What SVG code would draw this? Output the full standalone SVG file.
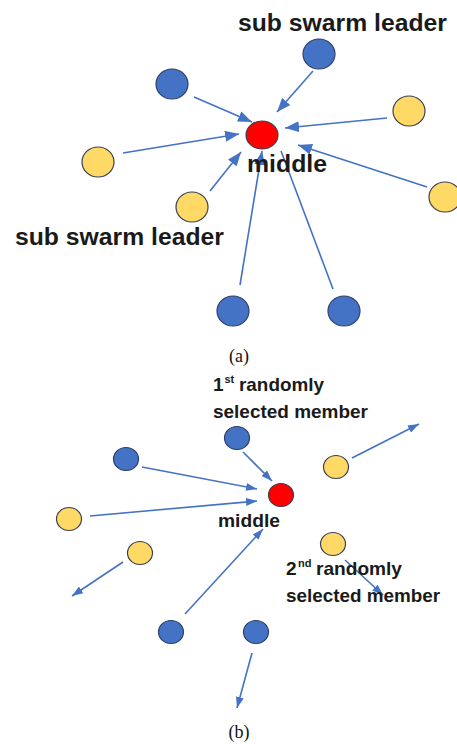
<svg xmlns="http://www.w3.org/2000/svg" width="457" height="744" viewBox="0 0 457 744">
<style>
.ln{stroke:#4472C4;stroke-width:1.6;fill:none}
.ma{marker-end:url(#ha)}
.mb{marker-end:url(#hb)}
.blue{fill:#4472C4;stroke:#2F3F6A;stroke-width:1.2}
.yel{fill:#FFD966;stroke:#3A3F55;stroke-width:1.2}
.red{fill:#FF0000;stroke:#3A3F55;stroke-width:1.2}
.lbl{font-family:"Liberation Sans",Arial,sans-serif;font-weight:bold;fill:#1a1a1a}
.cap{font-family:"Liberation Serif","Times New Roman",serif;fill:#111;font-size:18px}
</style>
<defs>
<marker id="ha" markerUnits="userSpaceOnUse" markerWidth="14" markerHeight="11" refX="14" refY="5.5" orient="auto"><path d="M0,0 L14,5.5 L0,11 z" fill="#4472C4"/></marker>
<marker id="hb" markerUnits="userSpaceOnUse" markerWidth="11" markerHeight="8" refX="11" refY="4" orient="auto"><path d="M0,0 L11,4 L0,8 z" fill="#4472C4"/></marker>
</defs>
<rect width="457" height="744" fill="#fff"/>
<g id="connectors">
<line class="ln ma" x1="194" y1="97" x2="252" y2="122"/>
<line class="ln ma" x1="313" y1="71" x2="277" y2="112"/>
<line class="ln ma" x1="387" y1="118" x2="285" y2="128"/>
<line class="ln ma" x1="123" y1="153" x2="239" y2="134"/>
<line class="ln ma" x1="210" y1="191" x2="241" y2="152"/>
<line class="ln ma" x1="427" y1="187" x2="298" y2="145"/>
<line class="ln ma" x1="240" y1="285" x2="262" y2="151"/>
<line class="ln" x1="333" y1="289" x2="281" y2="151"/>
<line class="ln mb" x1="243" y1="452" x2="272" y2="481"/>
<line class="ln mb" x1="142" y1="467" x2="257" y2="489"/>
<line class="ln mb" x1="90" y1="516" x2="257" y2="501"/>
<line class="ln mb" x1="352" y1="458" x2="419" y2="424"/>
<line class="ln mb" x1="185" y1="614" x2="263" y2="529"/>
<line class="ln mb" x1="123" y1="562" x2="72" y2="596"/>
<line class="ln mb" x1="345" y1="560" x2="383" y2="595"/>
<line class="ln mb" x1="252" y1="653" x2="237" y2="708"/>
</g>
<g id="a-leader-top"><ellipse class="blue" cx="319" cy="54" rx="16" ry="15"/></g>
<g id="a-blue-left"><ellipse class="blue" cx="172" cy="84" rx="16" ry="15"/></g>
<g id="a-yellow-right"><ellipse class="yel" cx="409" cy="111" rx="16" ry="15"/></g>
<g id="a-yellow-left"><ellipse class="yel" cx="98" cy="162" rx="16" ry="15"/></g>
<g id="a-leader-bottom"><ellipse class="yel" cx="192" cy="207" rx="16" ry="15"/></g>
<g id="a-yellow-far-right"><ellipse class="yel" cx="445" cy="197" rx="16" ry="15"/></g>
<g id="a-blue-bottom-left"><ellipse class="blue" cx="233" cy="311" rx="16" ry="15"/></g>
<g id="a-blue-bottom-right"><ellipse class="blue" cx="344" cy="311" rx="16" ry="15"/></g>
<g id="a-middle"><ellipse class="red" cx="262" cy="135" rx="16" ry="14"/></g>
<g id="a-labels">
<text class="lbl" x="238" y="31" font-size="23" textLength="209" lengthAdjust="spacingAndGlyphs">sub swarm leader</text>
<text class="lbl" x="15" y="245" font-size="23" textLength="209" lengthAdjust="spacingAndGlyphs">sub swarm leader</text>
<text class="lbl" x="247" y="172" font-size="24" textLength="80" lengthAdjust="spacingAndGlyphs">middle</text>
<text class="cap" x="239" y="362" text-anchor="middle">(a)</text>
</g>
<g id="b-first-selected"><ellipse class="blue" cx="237" cy="438" rx="12.5" ry="11.5"/></g>
<g id="b-blue-left"><ellipse class="blue" cx="126" cy="459" rx="12.5" ry="11.5"/></g>
<g id="b-yellow-top-right"><ellipse class="yel" cx="336" cy="467" rx="12.5" ry="11.5"/></g>
<g id="b-yellow-left"><ellipse class="yel" cx="69" cy="519" rx="12.5" ry="11.5"/></g>
<g id="b-yellow-bottom-left"><ellipse class="yel" cx="140" cy="553" rx="12.5" ry="11.5"/></g>
<g id="b-second-selected"><ellipse class="yel" cx="333" cy="544" rx="12.5" ry="11.5"/></g>
<g id="b-blue-bottom-left"><ellipse class="blue" cx="171" cy="632" rx="12.5" ry="11.5"/></g>
<g id="b-blue-bottom-right"><ellipse class="blue" cx="256" cy="632" rx="12.5" ry="11.5"/></g>
<g id="b-middle"><ellipse class="red" cx="281" cy="495" rx="12.5" ry="11.5"/></g>
<g id="b-labels">
<text class="lbl" x="213" y="391" font-size="19">1</text>
<text class="lbl" x="224.5" y="383" font-size="11">st</text>
<text class="lbl" x="239" y="391" font-size="19" textLength="85" lengthAdjust="spacingAndGlyphs">randomly</text>
<text class="lbl" x="213" y="418" font-size="19" textLength="155" lengthAdjust="spacingAndGlyphs">selected member</text>
<text class="lbl" x="218" y="527" font-size="18" textLength="62" lengthAdjust="spacingAndGlyphs">middle</text>
<text class="lbl" x="286" y="575" font-size="19">2</text>
<text class="lbl" x="298" y="567" font-size="11">nd</text>
<text class="lbl" x="316" y="575" font-size="19" textLength="86" lengthAdjust="spacingAndGlyphs">randomly</text>
<text class="lbl" x="286" y="602" font-size="19" textLength="154" lengthAdjust="spacingAndGlyphs">selected member</text>
<text class="cap" x="239" y="738" text-anchor="middle">(b)</text>
</g>
</svg>
